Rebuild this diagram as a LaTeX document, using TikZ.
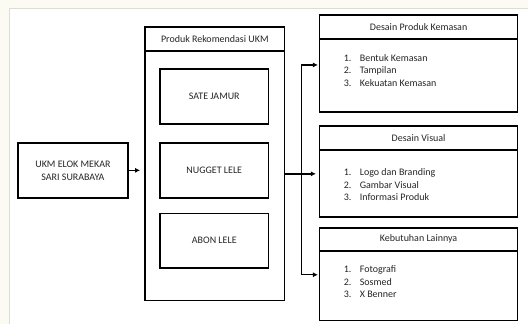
\documentclass[tikz,border=0pt]{standalone}
\usepackage{fontspec}
\setmainfont{Carlito}
\usetikzlibrary{arrows.meta}
\definecolor{paper}{HTML}{FBFBF3}
\definecolor{frame}{HTML}{DDDDD4}
\begin{document}
\begin{tikzpicture}[x=1pt,y=-1pt,
  box/.style={shape=rectangle,draw=black,line width=1.5pt,inner sep=0pt,text=black!85,font=\fontsize{10}{13}\selectfont,align=center},
  boxT/.style={box,minimum width=198pt},
  listL/.style={anchor=north west,inner sep=0pt,align=left,text=black!85,font=\fontsize{10}{12.7}\selectfont},
  conn/.style={line width=1.5pt},
  arr/.style={conn,-{Latex[length=5pt,width=5pt]}}]
\def\nb#1{\makebox[16pt][l]{#1}}

\fill[paper] (0,0) rectangle (528,324);
\fill[white] (10,9) rectangle (528,324);
\draw[frame,line width=1pt] (10,324) -- (10,9) -- (528,9);
\useasboundingbox (0,0) rectangle (528,324);

% left
\node[box,minimum width=110pt,minimum height=55pt] (ukm) at (73,170.5) {UKM ELOK MEKAR\\SARI SURABAYA};

% middle
\node[box,minimum width=140pt,minimum height=24pt] (prodT) at (215,39) {Produk Rekomendasi UKM};
\node[box,minimum width=140pt,minimum height=250pt] (prodB) at (215,176) {};
\node[box,minimum width=109pt,minimum height=55pt] (sate) at (214.5,96.5) {SATE JAMUR};
\node[box,minimum width=109pt,minimum height=55pt] (nugget) at (214.5,170.5) {NUGGET LELE};
\node[box,minimum width=109pt,minimum height=55pt] (abon) at (214.5,241) {ABON LELE};

% right
\node[boxT,minimum height=24pt] (kemasanT) at (419,27) {Desain Produk Kemasan};
\node[boxT,minimum height=73pt] (kemasanB) at (419,75.5) {};
\node[listL] (kemasanL) at (344,54) {\nb{1.}Bentuk Kemasan\\\nb{2.}Tampilan\\\nb{3.}Kekuatan Kemasan};

\node[boxT,minimum height=24pt] (visualT) at (419,138) {Desain Visual};
\node[boxT,minimum height=67pt] (visualB) at (419,183.5) {};
\node[listL] (visualL) at (344,168.5) {\nb{1.}Logo dan Branding\\\nb{2.}Gambar Visual\\\nb{3.}Informasi Produk};

\node[boxT,minimum height=23pt] (lainT) at (419,239.5) {Kebutuhan Lainnya};
\node[boxT,minimum height=70pt] (lainB) at (419,286) {};
\node[listL] (lainL) at (344,265.5) {\nb{1.}Fotografi\\\nb{2.}Sosmed\\\nb{3.}X Benner};

% connectors
\coordinate (J) at (302,174);
\coordinate (Jt) at (302,65);
\coordinate (Jb) at (302,275);
\draw[arr,shorten >=4pt] (ukm.east) -- (prodB.west |- ukm.east);
\draw[conn] (prodB.east |- J) -- (J);
\draw[arr] (J) -- ([xshift=-3pt]visualB.west |- J);
\draw[arr] (J) -- (Jt) -- ([xshift=-1pt]kemasanB.west |- Jt);
\draw[arr] (J) -- (Jb) -- ([xshift=-1pt]lainB.west |- Jb);
\end{tikzpicture}
\end{document}
